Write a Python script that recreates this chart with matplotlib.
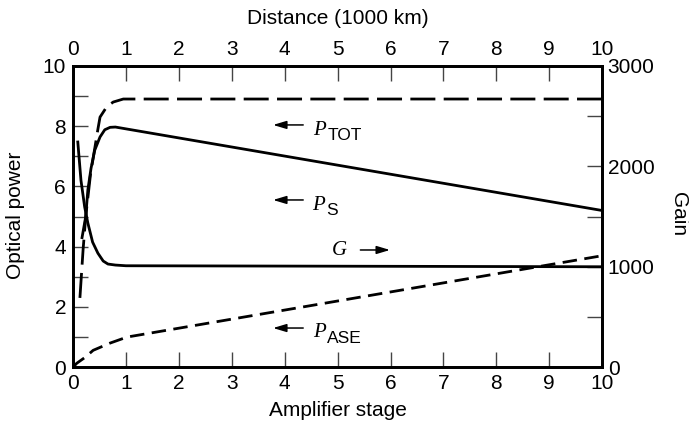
import numpy as np
import matplotlib.pyplot as plt
from matplotlib.ticker import MultipleLocator

plt.rcParams['font.family'] = ['Liberation Sans', 'DejaVu Sans']

# Total optical power (long dashes)
tot_x = [0.13, 0.19, 0.24, 0.33, 0.47, 0.51, 0.64, 0.76, 0.95, 10.0]
tot_y = [2.3, 3.9, 5.0, 6.4, 7.9, 8.3, 8.65, 8.8, 8.9, 8.9]

# Signal power (solid)
sig_x = [0.17, 0.24, 0.28, 0.34, 0.41, 0.51, 0.60, 0.70, 0.80, 10.0]
sig_y = [4.3, 5.0, 5.88, 6.6, 7.2, 7.64, 7.88, 7.96, 7.97, 5.2]

# ASE power (short dashes)
ase_x = [0.0, 0.07, 0.23, 0.38, 0.70, 1.02, 10.0]
ase_y = [0.0, 0.13, 0.33, 0.56, 0.8, 1.0, 3.7]

# Amplifier gain (right axis)
gain_x = [0.09, 0.15, 0.22, 0.28, 0.37, 0.47, 0.57, 0.66, 0.80, 1.0, 10.0]
gain_y = [2242, 1860, 1595, 1435, 1245, 1135, 1057, 1027, 1017, 1010, 1000]

fig = plt.figure(figsize=(6.89, 4.25), dpi=100)
ax = fig.add_axes([0.106, 0.136, 0.768, 0.709])
ax2 = ax.twinx()

lw = 2
ax.plot(tot_x, tot_y, color='black', lw=lw, dashes=(9, 3))
ax.plot(sig_x, sig_y, color='black', lw=lw)
ax.plot(ase_x, ase_y, color='black', lw=lw, dashes=(5.2, 2.7))
ax2.plot(gain_x, gain_y, color='black', lw=lw)

ax.set_xlim(0, 10)
ax.set_ylim(0, 10)
ax2.set_ylim(0, 3000)

fs = 15
fig.text(0.490, 1 - 18 / 425, 'Distance (1000 km)', fontsize=fs, ha='center', va='center')
fig.text(0.490, 1 - 410 / 425, 'Amplifier stage', fontsize=fs, ha='center', va='center')
fig.text(16 / 689, 1 - 215 / 425, 'Optical power', fontsize=fs, rotation=90,
         ha='center', va='center')
fig.text(678 / 689, 1 - 214 / 425, 'Gain', fontsize=fs, rotation=270,
         ha='center', va='center')

ax.xaxis.set_major_locator(MultipleLocator(1))
ax.yaxis.set_major_locator(MultipleLocator(2))
ax.yaxis.set_minor_locator(MultipleLocator(1))
ax2.yaxis.set_major_locator(MultipleLocator(1000))
ax2.yaxis.set_minor_locator(MultipleLocator(500))

tick_kw = dict(direction='in', length=11, width=1, color='#444444',
               labelcolor='black', labelsize=fs)
ax.tick_params(axis='both', which='both', pad=5, **tick_kw)
ax.tick_params(axis='x', which='both', top=True, labeltop=True, pad=5)
ax2.tick_params(axis='y', which='both', pad=4, **tick_kw)

for a in (ax, ax2):
    for s in a.spines.values():
        s.set_linewidth(2)
        s.set_color('black')

# Curve labels with pointer arrows
arrow = dict(arrowstyle='-|>,head_length=0.8,head_width=0.24', color='black', lw=1.1,
             shrinkA=0, shrinkB=0)
labels = [
    ('TOT', 4.35, 3.78, 8.04, 4.54, 7.71),
    ('S', 4.35, 3.78, 5.55, 4.52, 5.22),
    ('ASE', 4.35, 3.78, 1.30, 4.54, 1.00),
]
for sub, x0, x1, ya, xt, yt in labels:
    ax.annotate('', xy=(x1, ya), xytext=(x0, ya), arrowprops=arrow)
    ax.text(xt, yt, 'P', fontsize=15, family='Liberation Serif', style='italic',
            ha='left', va='baseline')
    ax.annotate(sub, xy=(xt, yt), xytext=(10, -4), textcoords='offset points',
                fontsize=12.5, ha='left', va='baseline')

ax.annotate('', xy=(5.99, 3.89), xytext=(5.43, 3.89), arrowprops=arrow)
ax.text(4.9, 3.72, 'G', fontsize=15, family='Liberation Serif', style='italic',
        ha='left', va='baseline')

fig.savefig('out.png', dpi=100)
